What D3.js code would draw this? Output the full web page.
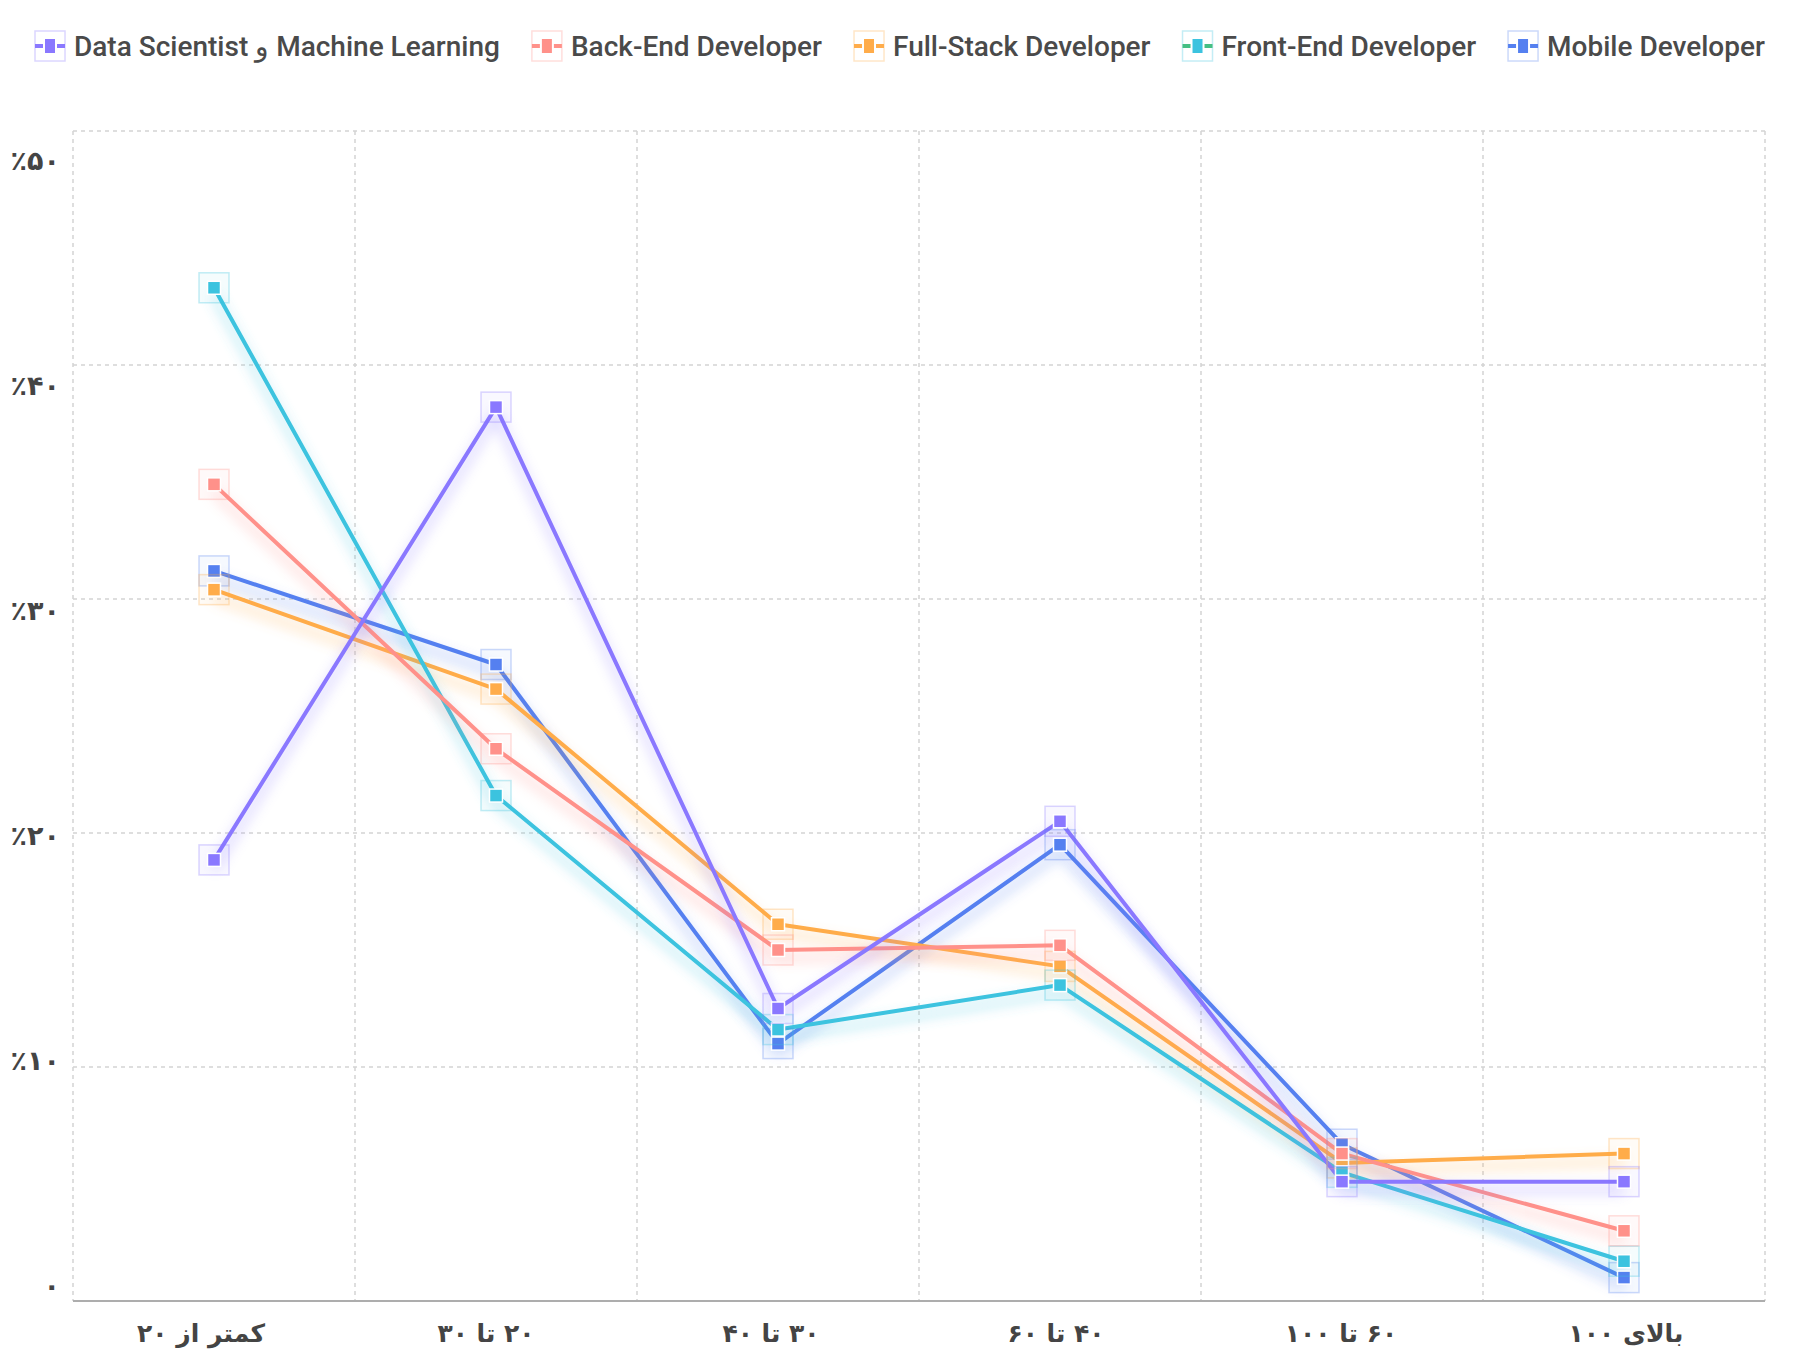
<!DOCTYPE html>
<html>
<head>
<meta charset="utf-8">
<script src="https://cdn.jsdelivr.net/npm/d3@7/dist/d3.min.js"></script>
<style>
html,body{margin:0;padding:0;background:#fff;}
svg{display:block;}
.rtl{direction:rtl;unicode-bidi:embed;}
</style>
</head>
<body>
<svg id="chart" width="1800" height="1372"></svg>
<script>
// ---- data ----
const categories = ["کمتر از ۲۰", "۲۰ تا ۳۰", "۳۰ تا ۴۰", "۴۰ تا ۶۰", "۶۰ تا ۱۰۰", "بالای ۱۰۰"];
const seriesNames = ["Data Scientist و Machine Learning", "Back-End Developer", "Full-Stack Developer", "Front-End Developer", "Mobile Developer"];
const dataScientist = [18.85, 38.2, 12.5, 20.5, 5.1, 5.1];
const backEnd = [34.9, 23.6, 15.0, 15.2, 6.3, 3.0];
const fullStack = [30.4, 26.15, 16.1, 14.3, 5.9, 6.3];
const frontEnd = [43.3, 21.6, 11.6, 13.5, 5.5, 1.7];
const mobile = [31.2, 27.2, 11.0, 19.5, 6.7, 1.0];
const yTicks = [0, 10, 20, 30, 40, 50];
const yTickLabels = ["۰", "٪۱۰", "٪۲۰", "٪۳۰", "٪۴۰", "٪۵۰"];

const colors = ["#8a78ff", "#ff918a", "#ffac4a", "#3cc3df", "#5580f0"];
const legendLineColors = ["#8a78ff", "#ff918a", "#ffac4a", "#45bf84", "#5580f0"];
const seriesValues = [dataScientist, backEnd, fullStack, frontEnd, mobile];

// ---- layout ----
const svg = d3.select("#chart");
const pL = 73, pR = 1765, pT = 131, pB = 1301;

const x = d3.scaleBand().domain(categories).range([pL, pR]).padding(0);
const y = d3.scaleLinear().domain([0, 50]).range([pB, pT]);
// labels are spread independently of the grid in the original
const yLab = d3.scaleLinear().domain([0, 50]).range([1287, 162]);
const xLab = d3.scalePoint().domain(categories).range([201, 1626]);

const defs = svg.append("defs");
colors.forEach((c, i) => {
  const f = defs.append("filter").attr("id", "glow" + i)
    .attr("filterUnits", "userSpaceOnUse")
    .attr("x", 0).attr("y", 0).attr("width", 1800).attr("height", 1372);
  f.append("feGaussianBlur").attr("in", "SourceGraphic").attr("stdDeviation", 7).attr("result", "b");
  f.append("feOffset").attr("in", "b").attr("dy", 8).attr("result", "o");
  const ct = f.append("feComponentTransfer").attr("in", "o").attr("result", "t");
  ct.append("feFuncA").attr("type", "linear").attr("slope", 0.6);
  const m = f.append("feMerge");
  m.append("feMergeNode").attr("in", "t");
  m.append("feMergeNode").attr("in", "SourceGraphic");
});

// grid
const grid = svg.append("g");
grid.selectAll("line.h").data(yTicks.filter(d => d > 0)).join("line")
  .attr("x1", pL).attr("x2", pR)
  .attr("y1", d => y(d)).attr("y2", d => y(d))
  .attr("stroke", "#d3d3d3").attr("stroke-width", 1.5).attr("stroke-dasharray", "4,4");
const vEdges = categories.map(c => x(c)).concat([pR]);
grid.selectAll("line.v").data(vEdges).join("line")
  .attr("x1", d => d).attr("x2", d => d)
  .attr("y1", pT).attr("y2", pB)
  .attr("stroke", "#d3d3d3").attr("stroke-width", 1.5).attr("stroke-dasharray", "4,4");
// x axis line
svg.append("line").attr("x1", pL).attr("x2", pR).attr("y1", pB).attr("y2", pB)
  .attr("stroke", "#adadad").attr("stroke-width", 2);

// y labels
svg.append("g").selectAll("text").data(yTicks).join("text")
  .attr("x", 60).attr("y", d => yLab(d))
  .attr("text-anchor", "end").attr("dominant-baseline", "middle")
  .attr("direction", "ltr")
  .style("font-family", "'DejaVu Sans', sans-serif").style("font-weight", "bold")
  .style("font-size", "27px").attr("fill", "#444")
  .text((d, i) => yTickLabels[i]);

// x labels
svg.append("g").selectAll("text").data(categories).join("text")
  .attr("class", "rtl")
  .attr("x", d => xLab(d)).attr("y", 1335)
  .attr("text-anchor", "middle").attr("dominant-baseline", "middle")
  .attr("direction", "rtl")
  .style("font-family", "'DejaVu Sans', sans-serif").style("font-weight", "bold")
  .style("font-size", "25px").attr("fill", "#444")
  .text(d => d);

// lines
const cx = c => x(c) + x.bandwidth() / 2;
const line = d3.line().x((d, i) => cx(categories[i])).y(d => y(d));
const order = [4, 2, 3, 1, 0];
const lg = svg.append("g");
order.forEach(i => {
  lg.append("path").datum(seriesValues[i])
    .attr("d", line).attr("fill", "none")
    .attr("stroke", colors[i]).attr("stroke-width", 4)
    .attr("stroke-linejoin", "round")
    .attr("filter", "url(#glow" + i + ")");
});
// markers
const mg = svg.append("g");
order.forEach(i => {
  const g = mg.append("g");
  g.selectAll("rect.o").data(seriesValues[i]).join("rect")
    .attr("x", (d, k) => cx(categories[k]) - 15).attr("y", d => y(d) - 15)
    .attr("width", 30).attr("height", 30)
    .attr("fill", colors[i]).attr("fill-opacity", 0.05)
    .attr("stroke", colors[i]).attr("stroke-opacity", 0.3).attr("stroke-width", 1.5);
  g.selectAll("rect.i").data(seriesValues[i]).join("rect")
    .attr("x", (d, k) => cx(categories[k]) - 6.5).attr("y", d => y(d) - 6.5)
    .attr("width", 13).attr("height", 13)
    .attr("fill", colors[i]).attr("stroke", "#fff").attr("stroke-width", 1.5);
});

// legend
const leg = svg.append("g");
let lx = 35;
const ly = 46;
seriesNames.forEach((name, i) => {
  const g = leg.append("g").attr("transform", `translate(${lx},${ly})`);
  g.append("rect").attr("x", 0).attr("y", -15).attr("width", 30).attr("height", 30)
    .attr("fill", "none").attr("stroke", colors[i]).attr("stroke-opacity", 0.3).attr("stroke-width", 1.5);
  g.append("line").attr("x1", 0).attr("x2", 30).attr("y1", 0).attr("y2", 0)
    .attr("stroke", legendLineColors[i]).attr("stroke-width", 4);
  g.append("rect").attr("x", 9).attr("y", -8).attr("width", 12).attr("height", 16)
    .attr("fill", colors[i]).attr("stroke", "#fff").attr("stroke-width", 2);
  const t = g.append("text").attr("x", 39).attr("y", 0)
    .attr("dominant-baseline", "central")
    .style("font-family", "Roboto, sans-serif").style("font-weight", 500)
    .style("font-size", "28px").attr("fill", "#4a4a4a")
    .text(name);
  const w = t.node().getComputedTextLength();
  lx += 39 + w + 32;
});
</script>
</body>
</html>
